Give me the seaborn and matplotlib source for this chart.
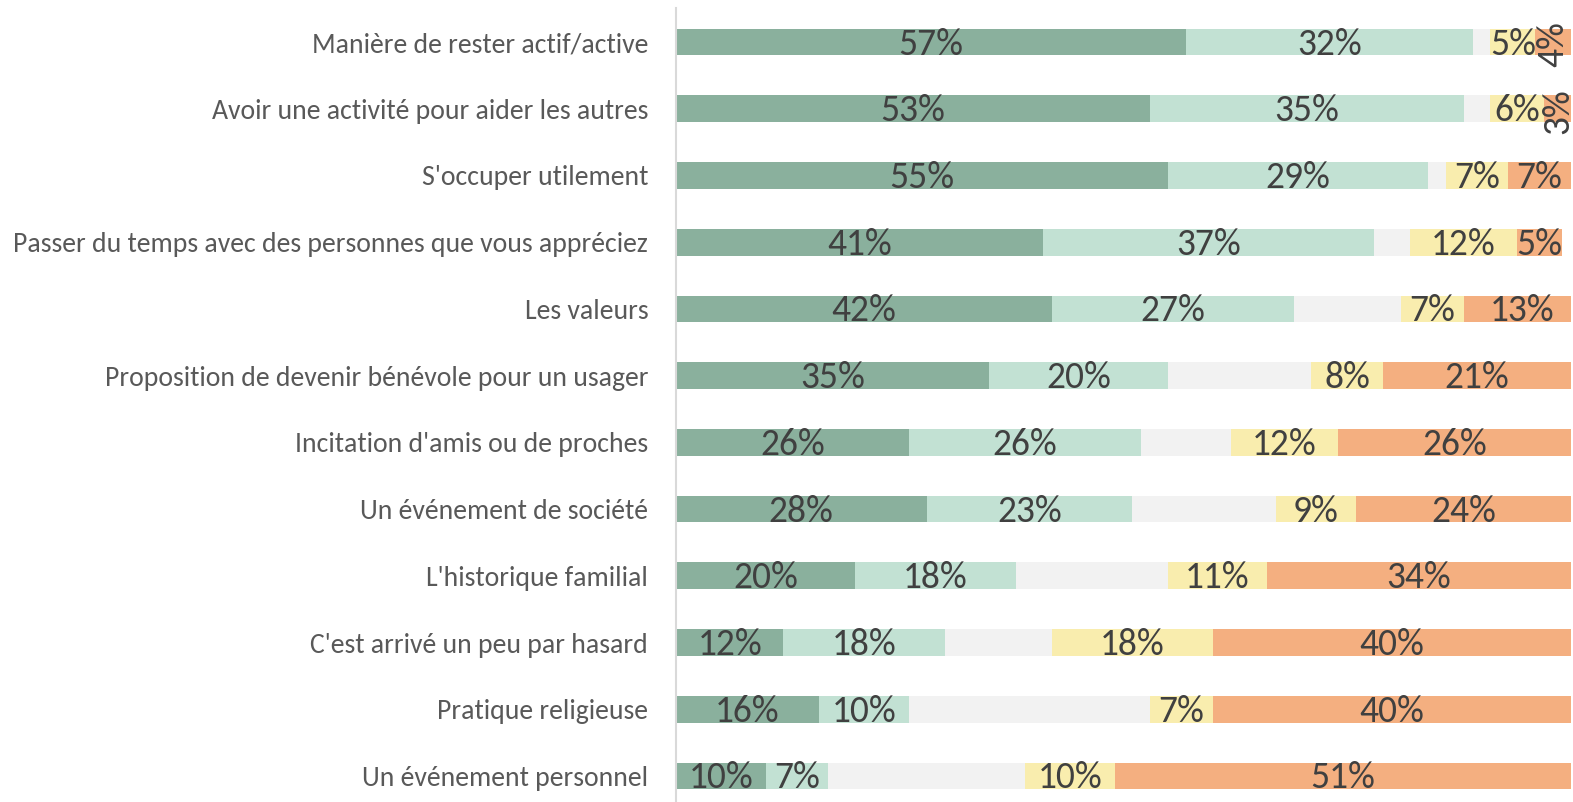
import seaborn as sns
import matplotlib.pyplot as plt
import pandas as pd
import numpy as np
from matplotlib import font_manager

# Data (percent per answer level)
categories = [
    "Manière de rester actif/active",
    "Avoir une activité pour aider les autres",
    "S'occuper utilement",
    "Passer du temps avec des personnes que vous appréciez",
    "Les valeurs",
    "Proposition de devenir bénévole pour un usager",
    "Incitation d'amis ou de proches",
    "Un événement de société",
    "L'historique familial",
    "C'est arrivé un peu par hasard",
    "Pratique religieuse",
    "Un événement personnel",
]
tout_a_fait = [57, 53, 55, 41, 42, 35, 26, 28, 20, 12, 16, 10]
plutot_oui = [32, 35, 29, 37, 27, 20, 26, 23, 18, 18, 10, 7]
neutre = [2, 3, 2, 4, 12, 16, 10, 16, 17, 12, 27, 22]
plutot_non = [5, 6, 7, 12, 7, 8, 12, 9, 11, 18, 7, 10]
pas_du_tout = [4, 3, 7, 5, 13, 21, 26, 24, 34, 40, 40, 51]

series = [tout_a_fait, plutot_oui, neutre, plutot_non, pas_du_tout]
colors = ["#8AB09D", "#C2E1D3", "#F2F2F2", "#F9EDAE", "#F4AF80"]
show_label = [True, True, False, True, True]

avail = {f.name for f in font_manager.fontManager.ttflist}
fam = "DejaVu Sans"
for cand in ["Carlito", "Roboto Condensed", "Open Sans Condensed", "Lato"]:
    if cand in avail:
        fam = cand
        break
plt.rcParams['font.family'] = [fam, 'DejaVu Sans']

df = pd.DataFrame(np.array(series).T, columns=["s0", "s1", "s2", "s3", "s4"])
cum = df.cumsum(axis=1)
cum["cat"] = categories

fig = plt.figure(figsize=(15.73, 8.02), dpi=100)
ax = fig.add_axes([676 / 1573, 0.0, 895 / 1573, 1 - 8 / 802])

# overlay cumulative bars, widest first
for i in range(4, -1, -1):
    sns.barplot(data=cum, x="s%d" % i, y="cat", orient="h", color=colors[i],
                saturation=1, width=0.4, ax=ax, linewidth=0)

for r in range(len(categories)):
    left = 0
    for i, vals in enumerate(series):
        v = vals[r]
        if show_label[i]:
            xc = left + v / 2
            rot = 90 if v < 5 else 0
            ax.text(xc, r + 0.03, "%d%%" % v, ha="center", va="center",
                    rotation=rot, fontsize=27, color="#404040")
        left += v

ax.set_xlim(0, 100)
ax.set_ylim(11.39, -0.51)
ax.set_xlabel("")
ax.set_ylabel("")
ax.set_xticks([])
ax.tick_params(axis="y", length=0, pad=20, labelsize=20, labelcolor="#595959")
for s in ["top", "right", "bottom"]:
    ax.spines[s].set_visible(False)
ax.spines["left"].set_color("#D9D9D9")
ax.spines["left"].set_linewidth(1.5)

fig.savefig("out.png", dpi=100)
